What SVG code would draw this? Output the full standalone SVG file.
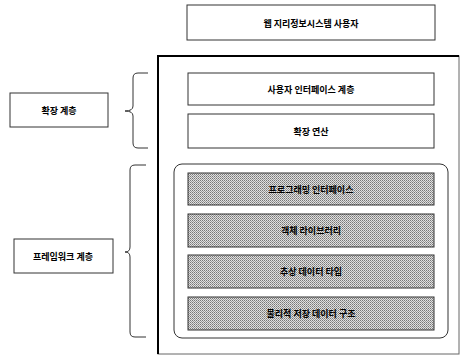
<svg xmlns="http://www.w3.org/2000/svg" width="462" height="356" viewBox="0 0 462 356">
<defs>
<pattern id="dots" width="2" height="2" patternUnits="userSpaceOnUse">
<rect width="2" height="2" fill="#e0e0e0"/>
<rect x="0" y="0" width="1" height="1" fill="#777"/>
<rect x="1" y="1" width="1" height="1" fill="#999"/>
</pattern>
</defs>
<style>
.box{fill:#fff;stroke:#333;stroke-width:1}
.gbox{fill:url(#dots);stroke:#333;stroke-width:1}
.t{font-family:"Noto Sans CJK KR","Noto Sans",sans-serif;font-size:9px;font-weight:bold;fill:#000;text-anchor:middle;dominant-baseline:central}
.brace{fill:none;stroke:#333;stroke-width:1}
</style>
<rect width="462" height="356" fill="#fff"/>
<g id="user">
<rect class="box" x="187" y="5" width="248" height="35"/>
<text class="t" x="311" y="23">웹 지리정보시스템 사용자</text>
</g>
<g id="outer">
<rect x="158" y="56" width="301" height="298" fill="none" stroke="#666" stroke-width="1"/>
<path d="M158,354 V56 H459" fill="none" stroke="#000" stroke-width="2"/>
</g>
<g id="ext-layer">
<rect class="box" x="10" y="93" width="98" height="34"/>
<text class="t" x="59" y="110">확장 계층</text>
</g>
<g id="ui-layer">
<rect class="box" x="188" y="73" width="246" height="32"/>
<text class="t" x="311" y="89">사용자 인터페이스 계층</text>
</g>
<g id="ext-op">
<rect class="box" x="188" y="114" width="246" height="34"/>
<text class="t" x="311" y="131">확장 연산</text>
</g>
<g id="framework-container">
<rect x="174" y="164" width="274" height="174" rx="8" fill="none" stroke="#333" stroke-width="1"/>
</g>
<g id="fw-layer">
<rect class="box" x="14" y="239" width="99" height="34"/>
<text class="t" x="63" y="256">프레임워크 계층</text>
</g>
<g id="prog-if">
<rect class="gbox" x="188" y="173" width="246" height="32"/>
<text class="t" x="311" y="189">프로그래밍 인터페이스</text>
</g>
<g id="obj-lib">
<rect class="gbox" x="188" y="214" width="246" height="33"/>
<text class="t" x="311" y="230.5">객체 라이브러리</text>
</g>
<g id="adt">
<rect class="gbox" x="188" y="255" width="246" height="33"/>
<text class="t" x="311" y="271.5">추상 데이터 타입</text>
</g>
<g id="phys">
<rect class="gbox" x="188" y="297" width="246" height="33"/>
<text class="t" x="311" y="313.5">물리적 저장 데이터 구조</text>
</g>
<g id="connectors">
<path class="brace" d="M148,73 H138 Q133,73 133,78 V106 Q133,111 125,111 Q133,111 133,116 V143 Q133,148 138,148 H148"/>
<path class="brace" d="M146,165 H135 Q130,165 130,170 V247 Q130,252 125,252 Q130,252 130,257 V332 Q130,337 135,337 H146"/>
</g>
</svg>
